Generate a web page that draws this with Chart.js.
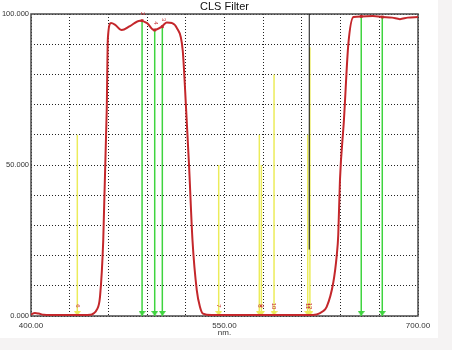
<!DOCTYPE html>
<html>
<head>
<meta charset="utf-8">
<title>CLS Filter</title>
<script src="https://cdn.jsdelivr.net/npm/chart.js@4.4.0/dist/chart.umd.min.js"></script>
<style>
  html, body { margin: 0; padding: 0; background: #f5f3f3; }
  #wrap { width: 438px; height: 338px; background: #fff; }
</style>
</head>
<body>
<div id="wrap"><canvas id="filterChart" width="438" height="338"></canvas></div>
<script>
// Filter transmission curve (nm, %)
const curveNm = [400, 403, 406, 410, 420, 430, 440, 446, 448.3, 450.9, 453.5, 456, 458.7, 459.6,
    462, 465, 470.3, 476.7, 484.5, 490, 495.3, 501.3, 505.2, 509.3, 513, 517.6, 520.3, 522.5,
    525.2, 528.5, 531, 533.3, 540, 560, 580, 600, 615, 621.4, 626, 629.2, 634.3, 637, 638.2,
    639.5, 642.6, 646, 650, 656, 665, 672, 680, 686, 692, 700];
const curvePct = [0.5, 1.0, 0.8, 0.4, 0.3, 0.3, 0.3, 0.4, 0.8, 2, 6.4, 25, 68, 92,
    97, 96.5, 94.7, 96, 97.8, 97, 94.7, 95.8, 97.2, 97, 95.4, 88, 68, 50,
    25, 8.6, 3, 0.8, 0.3, 0.3, 0.3, 0.3, 0.3, 0.5, 1.5, 3, 11, 20, 27,
    45, 65, 90, 99, 99.2, 99.3, 99, 98.8, 98.3, 98.8, 99];

// Nebula emission lines (green)
const nebulaNm = [486.1, 495.9, 501.8, 656.0, 672.3];
const nebulaPct = [97.8, 94.7, 95.8, 99.2, 99.0];
const nebulaLabels = ['2', '4', '3', '', ''];

// Light pollution lines (yellow)
const pollutionNm = [435.9, 545.5, 577.0, 578.6, 588.4, 614.5, 616.2];
const pollutionPct = [60, 50, 60, 50, 80, 60, 89];
const pollutionLabels = ['6', '7', '8', '9', '10', '11', '12'];

// Cursor line
const cursorNm = 615.7;
const cursorPct = [22, 100];

// Axis ticks
const xMin = 400, xMax = 700, xStep = 30;
const yMin = 0, yMax = 100, yStep = 10;
const xLabelled = [400, 550, 700];
const yLabelled = [0, 50, 100];

const FONT = '"Liberation Sans", Arial, sans-serif';
const RED = '#c4272b';
const GREEN = '#3fd43f';
const YELLOW = '#ecec5a';

// down arrow whose tip sits at the image centre
function arrowImage(color) {
    const c = document.createElement('canvas');
    c.width = 7;
    c.height = 10;
    const g = c.getContext('2d');
    g.fillStyle = color;
    g.beginPath();
    g.moveTo(0, 0);
    g.lineTo(7, 0);
    g.lineTo(3.5, 5);
    g.closePath();
    g.fill();
    return c;
}

function verticalLine(x, top, color, marker) {
    return {
        type: 'line',
        data: [{ x: x, y: 0 }, { x: x, y: top }],
        borderColor: color,
        borderWidth: 1.5,
        pointRadius: [4, marker ? 2 : 0],
        pointStyle: [arrowImage(color), 'rect'],
        pointBackgroundColor: RED,
        pointBorderColor: RED,
        pointBorderWidth: 0,
        clip: false,
        order: 2
    };
}

const datasets = [];
nebulaNm.forEach((nm, i) => datasets.push(verticalLine(nm, nebulaPct[i], GREEN, true)));
datasets.push({
    type: 'line',
    data: [{ x: cursorNm, y: cursorPct[0] }, { x: cursorNm, y: cursorPct[1] }],
    borderColor: '#111',
    borderWidth: 1,
    pointRadius: 0,
    order: 2
});
pollutionNm.forEach((nm, i) => datasets.push(verticalLine(nm, pollutionPct[i], YELLOW, false)));
datasets.push({
    type: 'line',
    data: curveNm.map((x, i) => ({ x: x, y: curvePct[i] })),
    borderColor: RED,
    borderWidth: 2,
    pointRadius: 0,
    cubicInterpolationMode: 'monotone',
    order: 1
});

// Frame, title and line numbers
const decorations = {
    id: 'decorations',
    beforeDatasetsDraw(chart) {
        const { ctx, chartArea: a } = chart;
        ctx.save();
        ctx.strokeStyle = '#4a4a4a';
        ctx.lineWidth = 1.5;
        ctx.strokeRect(a.left, a.top, a.right - a.left, a.bottom - a.top);
        ctx.restore();
    },
    afterDatasetsDraw(chart) {
        const { ctx, chartArea: a, scales } = chart;
        ctx.save();
        ctx.fillStyle = '#111';
        ctx.font = '11px ' + FONT;
        ctx.textAlign = 'center';
        ctx.textBaseline = 'middle';
        ctx.fillText('CLS Filter', (a.left + a.right) / 2, 7);

        ctx.fillStyle = RED;
        ctx.font = '6px ' + FONT;
        pollutionNm.forEach((nm, i) => {
            const x = scales.x.getPixelForValue(nm);
            ctx.save();
            ctx.translate(x, a.bottom - 10);
            ctx.rotate(Math.PI / 2);
            ctx.fillText(pollutionLabels[i], 0, 0);
            ctx.restore();
        });
        nebulaNm.forEach((nm, i) => {
            if (!nebulaLabels[i]) return;
            const x = scales.x.getPixelForValue(nm);
            const y = scales.y.getPixelForValue(nebulaPct[i]);
            ctx.save();
            ctx.translate(x + 1, y - 7);
            ctx.rotate(Math.PI / 2);
            ctx.fillText(nebulaLabels[i], 0, 0);
            ctx.restore();
        });
        ctx.restore();
    }
};

new Chart(document.getElementById('filterChart'), {
    type: 'scatter',
    data: { datasets: datasets },
    options: {
        responsive: false,
        animation: false,
        layout: { padding: { top: 14, right: 20, left: 0, bottom: 0 } },
        plugins: { legend: { display: false }, tooltip: { enabled: false }, title: { display: false } },
        scales: {
            x: {
                type: 'linear',
                min: xMin,
                max: xMax,
                afterFit: (scale) => { scale.height = 22; },
                grid: { color: '#222', lineWidth: 1, drawTicks: false },
                border: { display: false, dash: [1, 2] },
                ticks: {
                    stepSize: xStep,
                    autoSkip: false,
                    maxRotation: 0,
                    padding: 5,
                    color: '#333',
                    font: { family: FONT, size: 8 },
                    callback: (v) => xLabelled.includes(v) ? v.toFixed(2) : ''
                },
                title: {
                    display: true,
                    text: 'nm.',
                    color: '#333',
                    padding: { top: 0, bottom: 0 },
                    font: { family: FONT, size: 8 }
                }
            },
            y: {
                min: yMin,
                max: yMax,
                afterFit: (scale) => { scale.width = 31; },
                grid: { color: '#222', lineWidth: 1, drawTicks: false },
                border: { display: false, dash: [1, 2] },
                ticks: {
                    stepSize: yStep,
                    autoSkip: false,
                    padding: 2,
                    color: '#333',
                    font: { family: FONT, size: 7.5 },
                    callback: (v) => yLabelled.includes(v) ? v.toFixed(3) : ''
                }
            }
        }
    },
    plugins: [decorations]
});
</script>
</body>
</html>
